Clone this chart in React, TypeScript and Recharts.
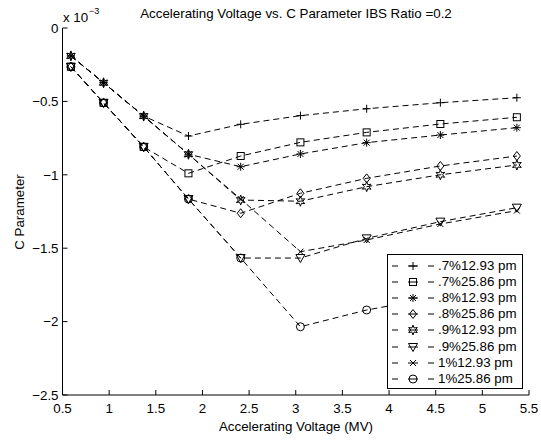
import React from "react";
import { LineChart, Line, XAxis, YAxis, Legend } from "recharts";

// accelerating voltage (MV) for every run
const voltages = [0.59, 0.94, 1.37, 1.85, 2.41, 3.05, 3.76, 4.55, 5.37];
const xTicks = [0.5, 1, 1.5, 2, 2.5, 3, 3.5, 4, 4.5, 5, 5.5];
const yTicks = [-2.5, -2, -1.5, -1, -0.5, 0];

// C parameter, in units of 1e-3
const p7_1293 = [-0.19, -0.373, -0.6, -0.736, -0.656, -0.597, -0.55, -0.509, -0.475];
const p7_2586 = [-0.264, -0.51, -0.81, -0.99, -0.872, -0.779, -0.711, -0.654, -0.608];
const p8_1293 = [-0.19, -0.373, -0.6, -0.86, -0.945, -0.858, -0.781, -0.729, -0.679];
const p8_2586 = [-0.264, -0.51, -0.81, -1.165, -1.262, -1.126, -1.024, -0.94, -0.872];
const p9_1293 = [-0.19, -0.373, -0.6, -0.86, -1.172, -1.18, -1.081, -1.0, -0.933];
const p9_2586 = [-0.264, -0.51, -0.81, -1.165, -1.567, -1.567, -1.433, -1.319, -1.224];
const p10_1293 = [-0.19, -0.373, -0.6, -0.86, -1.165, -1.524, -1.444, -1.335, -1.244];
const p10_2586 = [-0.264, -0.51, -0.81, -1.165, -1.567, -2.035, -1.921, -1.83, -1.76];

type Shape = "plus" | "square" | "star" | "diamond" | "hexagram" | "tri" | "cross" | "circle";

const series: { key: string; name: string; shape: Shape; values: number[] }[] = [
  { key: "s1", name: ".7%12.93 pm", shape: "plus", values: p7_1293 },
  { key: "s2", name: ".7%25.86 pm", shape: "square", values: p7_2586 },
  { key: "s3", name: ".8%12.93 pm", shape: "star", values: p8_1293 },
  { key: "s4", name: ".8%25.86 pm", shape: "diamond", values: p8_2586 },
  { key: "s5", name: ".9%12.93 pm", shape: "hexagram", values: p9_1293 },
  { key: "s6", name: ".9%25.86 pm", shape: "tri", values: p9_2586 },
  { key: "s7", name: "1%12.93 pm", shape: "cross", values: p10_1293 },
  { key: "s8", name: "1%25.86 pm", shape: "circle", values: p10_2586 },
];

const data = voltages.map((v, i) => {
  const row: Record<string, number> = { v };
  series.forEach((s) => (row[s.key] = s.values[i]));
  return row;
});

const FONT = "'Liberation Sans', Arial, Helvetica, sans-serif";
const INK = "#000";

function Marker({ shape, cx, cy }: { shape: Shape; cx: number; cy: number }) {
  const st = { fill: "none", stroke: INK, strokeWidth: 1 };
  switch (shape) {
    case "plus":
      return (
        <g {...st}>
          <line x1={cx - 4} y1={cy} x2={cx + 4} y2={cy} />
          <line x1={cx} y1={cy - 4} x2={cx} y2={cy + 4} />
        </g>
      );
    case "cross":
      return (
        <g {...st}>
          <line x1={cx - 3} y1={cy - 3} x2={cx + 3} y2={cy + 3} />
          <line x1={cx - 3} y1={cy + 3} x2={cx + 3} y2={cy - 3} />
        </g>
      );
    case "star":
      return (
        <g {...st}>
          <line x1={cx - 4} y1={cy} x2={cx + 4} y2={cy} />
          <line x1={cx} y1={cy - 4} x2={cx} y2={cy + 4} />
          <line x1={cx - 3} y1={cy - 3} x2={cx + 3} y2={cy + 3} />
          <line x1={cx - 3} y1={cy + 3} x2={cx + 3} y2={cy - 3} />
        </g>
      );
    case "square":
      return <rect x={cx - 3.5} y={cy - 3.5} width={7} height={7} {...st} />;
    case "diamond":
      return (
        <polygon
          points={`${cx},${cy - 4.5} ${cx + 3.5},${cy} ${cx},${cy + 4.5} ${cx - 3.5},${cy}`}
          {...st}
        />
      );
    case "tri":
      return (
        <polygon
          points={`${cx - 4.5},${cy - 3.5} ${cx + 4.5},${cy - 3.5} ${cx},${cy + 4.5}`}
          {...st}
        />
      );
    case "circle":
      return <circle cx={cx} cy={cy} r={4} {...st} />;
    case "hexagram": {
      const pts: string[] = [];
      for (let k = 0; k < 12; k++) {
        const r = k % 2 === 0 ? 5 : 2.3;
        const a = (Math.PI / 6) * k - Math.PI / 2;
        pts.push(`${cx + r * Math.cos(a)},${cy + r * Math.sin(a)}`);
      }
      return <polygon points={pts.join(" ")} {...st} />;
    }
  }
  return null;
}

const fmtX = (v: number) => String(v);
const fmtY = (v: number) => (v < 0 ? "\u2212" + String(-v) : String(v));

const XTick = (props: any) => {
  const { x, y, payload } = props;
  return (
    <g>
      <line x1={x} y1={y} x2={x} y2={y - 5} stroke={INK} />
      <text x={x} y={y + 17.5} textAnchor="middle" fontSize={13.33} fontFamily={FONT} fill={INK}>
        {fmtX(payload.value)}
      </text>
    </g>
  );
};

const YTick = (props: any) => {
  const { x, y, payload } = props;
  return (
    <g>
      <line x1={x} y1={y} x2={x + 5} y2={y} stroke={INK} />
      <text x={x - 4} y={y + 4.7} textAnchor="end" fontSize={13.33} fontFamily={FONT} fill={INK}>
        {fmtY(payload.value)}
      </text>
    </g>
  );
};

const LegendBox = () => (
  <div
    style={{
      background: "#fff",
      border: "1px solid #000",
      width: 136,
      height: 135,
      boxSizing: "border-box",
      paddingTop: 3,
      fontFamily: FONT,
      fontSize: 13.33,
      color: INK,
    }}
  >
    {series.map((s) => (
      <div key={s.key} style={{ display: "flex", alignItems: "center", height: 16.1 }}>
        <svg width={50} height={16} style={{ display: "block", flex: "none" }}>
          <line x1={4} y1={8} x2={10} y2={8} stroke={INK} />
          <line x1={20} y1={8} x2={30} y2={8} stroke={INK} />
          <line x1={40} y1={8} x2={46} y2={8} stroke={INK} />
          <Marker shape={s.shape} cx={25} cy={8} />
        </svg>
        <span style={{ whiteSpace: "nowrap", lineHeight: "16px" }}>{s.name}</span>
      </div>
    ))}
  </div>
);

export default function App() {
  return (
    <div style={{ position: "absolute", left: 0, top: 0, width: 541, height: 441, background: "#fff" }}>
      <LineChart
        width={541}
        height={441}
        data={data}
        margin={{ top: 28, right: 12, bottom: 16, left: 12.5 }}
      >
        <XAxis
          dataKey="v"
          type="number"
          domain={[0.5, 5.5]}
          ticks={xTicks}
          allowDataOverflow
          height={30}
          tickSize={0}
          tickMargin={0}
          tickLine={false}
          axisLine={{ stroke: INK }}
          tick={<XTick />}
          interval={0}
        />
        <YAxis
          type="number"
          domain={[-2.5, 0]}
          ticks={yTicks}
          allowDataOverflow
          width={50}
          tickSize={0}
          tickMargin={0}
          tickLine={false}
          axisLine={{ stroke: INK }}
          tick={<YTick />}
          interval={0}
        />
        {series.map((s) => (
          <Line
            key={s.key}
            dataKey={s.key}
            name={s.name}
            type="linear"
            stroke={INK}
            strokeWidth={1}
            strokeDasharray="6 4"
            isAnimationActive={false}
            activeDot={false}
            dot={(p: any) => <Marker key={`${s.key}-${p.index}`} shape={s.shape} cx={p.cx} cy={p.cy} />}
          />
        ))}
        <Legend
          layout="vertical"
          align="center"
          verticalAlign="middle"
          wrapperStyle={{ left: 387, top: 254, width: 136, height: 135 }}
          content={() => <LegendBox />}
        />
      </LineChart>
      <svg
        width={541}
        height={441}
        style={{ position: "absolute", left: 0, top: 0, pointerEvents: "none" }}
        fontFamily={FONT}
        fill={INK}
      >
        <text x={296} y={18} textAnchor="middle" fontSize={13.33}>
          Accelerating Voltage vs. C Parameter IBS Ratio =0.2
        </text>
        <text x={296} y={431} textAnchor="middle" fontSize={13.33}>
          Accelerating Voltage (MV)
        </text>
        <text transform="translate(24,212) rotate(-90)" textAnchor="middle" fontSize={13.33}>
          C Parameter
        </text>
        <text x={63} y={22} fontSize={13.33}>
          x 10
        </text>
        <text x={89} y={14} fontSize={9}>
          {"\u22123"}
        </text>
      </svg>
    </div>
  );
}
